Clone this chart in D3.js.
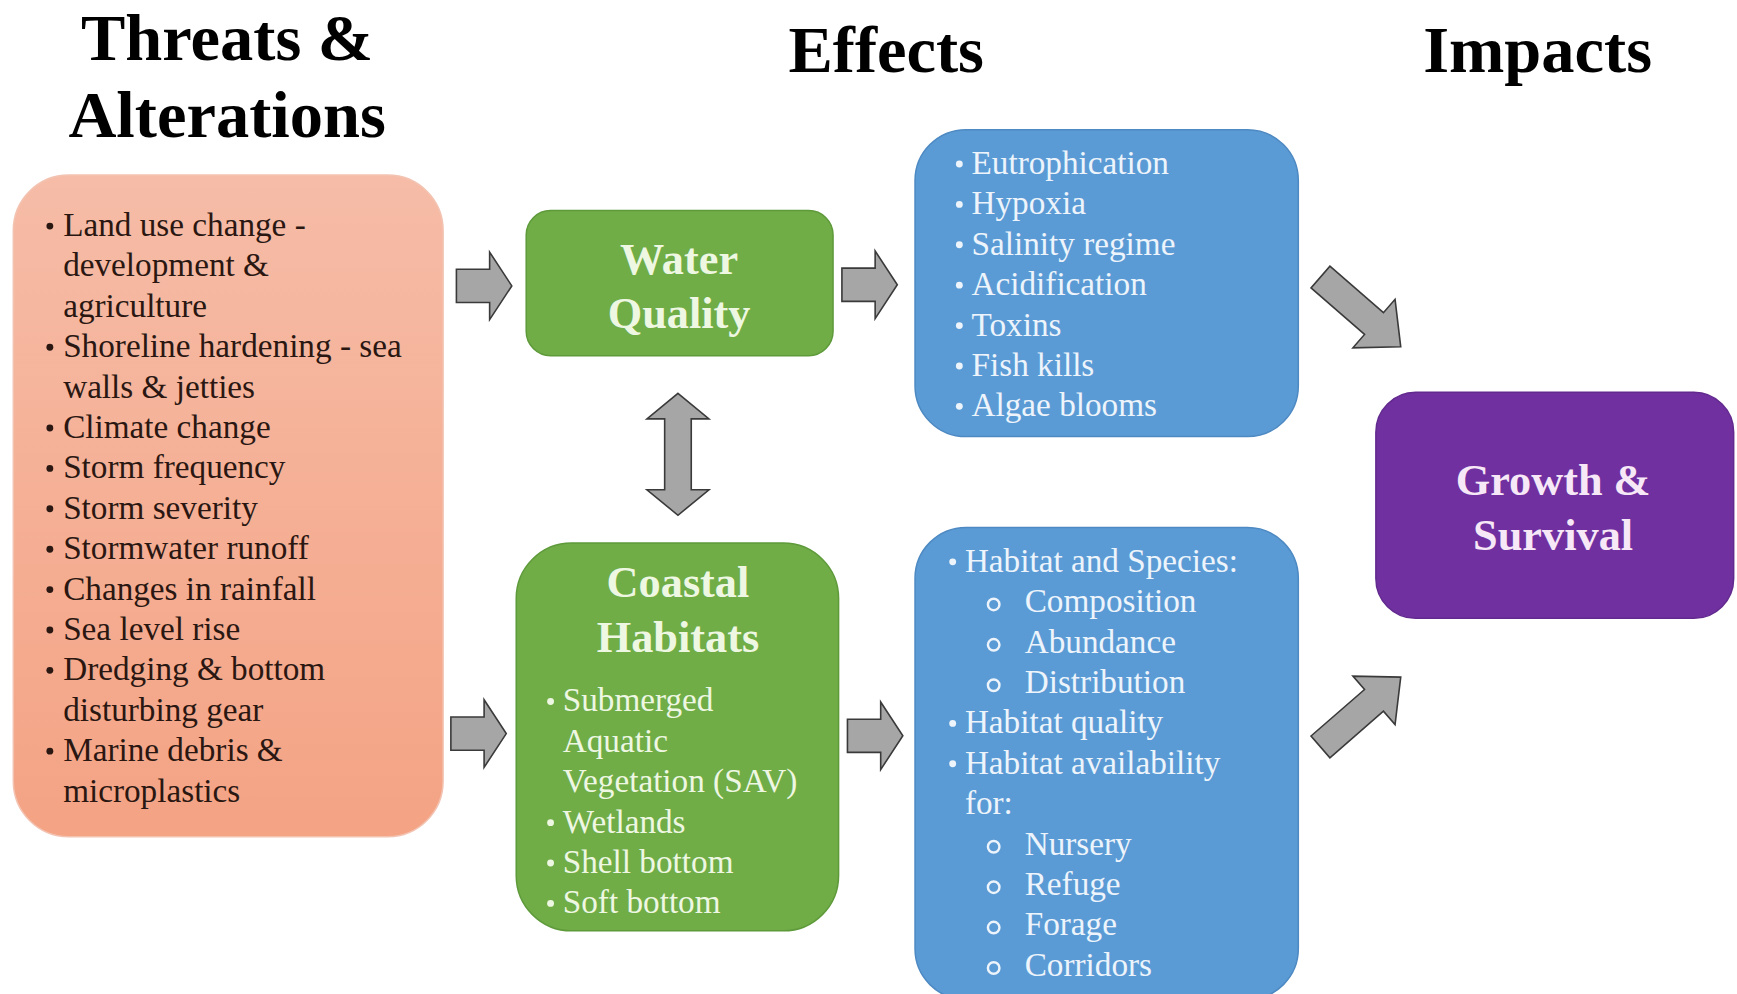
<!DOCTYPE html>
<html>
<head>
<meta charset="utf-8">
<script src="https://cdn.jsdelivr.net/npm/d3@7"></script>
<style>
  html, body { margin:0; padding:0; background:#fff; }
  svg { display:block; }
</style>
</head>
<body>
<div id="plot"></div>
<script>
// text content of the diagram
var colTitles = [["Threats &","Alterations"], ["Effects"], ["Impacts"]];
var threats = [
  ["Land use change -","development &","agriculture"],
  ["Shoreline hardening - sea","walls & jetties"],
  ["Climate change"],
  ["Storm frequency"],
  ["Storm severity"],
  ["Stormwater runoff"],
  ["Changes in rainfall"],
  ["Sea level rise"],
  ["Dredging & bottom","disturbing gear"],
  ["Marine debris &","microplastics"]
];
var waterTitle = ["Water","Quality"];
var habitatTitle = ["Coastal","Habitats"];
var habitatTypes = [
  ["Submerged","Aquatic","Vegetation (SAV)"],
  ["Wetlands"],
  ["Shell bottom"],
  ["Soft bottom"]
];
var waterEffects = ["Eutrophication","Hypoxia","Salinity regime","Acidification","Toxins","Fish kills","Algae blooms"];
var habitatEffects = [
  {lines:["Habitat and Species:"], sub:["Composition","Abundance","Distribution"]},
  {lines:["Habitat quality"], sub:[]},
  {lines:["Habitat availability","for:"], sub:["Nursery","Refuge","Forage","Corridors"]}
];
var impactTitle = ["Growth &","Survival"];

//Set up the drawing environment here
var W = 1737, H = 994;
// layout was measured on a 1568 x 897 copy, scales map it to the page
var x = d3.scaleLinear().domain([0,1568]).range([0,W]);
var y = d3.scaleLinear().domain([0,897]).range([0,H]);
var k = W/1568;
var serif = "'Liberation Serif','Times New Roman',serif";
var lineStep = 36.45;

var svg = d3.select('#plot')
  .append('svg')
  .attr('width',W)
  .attr('height',H);

var defs = svg.append('defs');
var grad = defs.append('linearGradient').attr('id','salmon')
  .attr('x1',0).attr('y1',0).attr('x2',0).attr('y2',1);
grad.append('stop').attr('offset','0%').attr('stop-color','#f6bca7');
grad.append('stop').attr('offset','100%').attr('stop-color','#f4a384');

svg.append('rect').attr('width',W).attr('height',H).style('fill','#fff');

// column headers
var titleX = [205, 800, 1388], titleY = [54, 65, 65];
colTitles.forEach(function(t, i){
  t.forEach(function(line, j){
    svg.append('text')
      .attr('x', x(titleX[i]))
      .attr('y', y(titleY[i] + j*70))
      .attr('text-anchor','middle')
      .style('font-family',serif)
      .style('font-weight','bold')
      .style('font-size',(60*k)+'px')
      .style('fill','#000')
      .text(line);
  });
});

function box(x0, y0, x1, y1, r, fill, stroke){
  svg.append('rect')
    .attr('x',x(x0)).attr('y',y(y0))
    .attr('width',x(x1)-x(x0)).attr('height',y(y1)-y(y0))
    .attr('rx',r*k).attr('ry',r*k)
    .style('fill',fill)
    .style('stroke',stroke)
    .style('stroke-width',1.5);
}

function heading(lines, cx, base, color){
  lines.forEach(function(line, j){
    svg.append('text')
      .attr('x',x(cx)).attr('y',y(base + j*49))
      .attr('text-anchor','middle')
      .style('font-family',serif)
      .style('font-weight','bold')
      .style('font-size',(40*k)+'px')
      .style('fill',color)
      .text(line);
  });
}

// one row of list text, center line at yc
function row(str, tx, yc, color){
  svg.append('text')
    .attr('x',x(tx)).attr('y',y(yc+10))
    .style('font-family',serif)
    .style('font-size',(30*k)+'px')
    .style('fill',color)
    .text(str);
}
function dot(bx, yc, color){
  svg.append('circle').attr('cx',x(bx)).attr('cy',y(yc+1)).attr('r',3.1*k).style('fill',color);
}
function ring(bx, yc, color){
  svg.append('circle').attr('cx',x(bx)).attr('cy',y(yc+3)).attr('r',5.2*k)
    .style('fill','none').style('stroke',color).style('stroke-width',2.2*k);
}

// bulleted list of multi-line items
function bulletList(items, bx, tx, y0, color){
  var n = 0;
  items.forEach(function(item){
    dot(bx, y0 + n*lineStep, color);
    item.forEach(function(line){
      row(line, tx, y0 + n*lineStep, color);
      n++;
    });
  });
}

// boxes
box(12, 158, 400, 755, 50, 'url(#salmon)', '#f3c3b2');
box(475, 190, 752, 321, 22, '#70ad47', '#5e9a3a');
box(466, 490, 757, 840, 50, '#70ad47', '#5e9a3a');
box(826, 117, 1172, 394, 46, '#5b9bd5', '#4d89c2');
box(826, 476, 1172, 902, 46, '#5b9bd5', '#4d89c2');
box(1242, 354, 1565, 558, 36, '#7030a0', '#622a8e');

// box contents
var brown = '#2a1712', cream = '#eef7e2', pale = '#edf4fb';
bulletList(threats, 45, 57, 203, brown);

heading(waterTitle, 613, 247, cream);
heading(habitatTitle, 612, 539, cream);
bulletList(habitatTypes, 497, 508, 632, cream);

bulletList(waterEffects.map(function(d){ return [d]; }), 866, 877, 147, pale);

var n = 0;
habitatEffects.forEach(function(item){
  dot(860, 506 + n*lineStep, pale);
  item.lines.forEach(function(line){ row(line, 871, 506 + n*lineStep, pale); n++; });
  item.sub.forEach(function(s){
    ring(897, 506 + n*lineStep, pale);
    row(s, 925, 506 + n*lineStep, pale);
    n++;
  });
});

heading(impactTitle, 1402, 447, '#f6e8f6');

// block arrows, built along +x then moved into place
function arrowPath(len, shaft, head, headLen){
  var s = shaft/2, h = head/2, b = len - headLen;
  return 'M0,'+(-s)+'L'+b+','+(-s)+'L'+b+','+(-h)+'L'+len+',0L'+b+','+h+'L'+b+','+s+'L0,'+s+'Z';
}
function doubleArrowPath(len, shaft, head, headLen){
  var s = shaft/2, h = head/2;
  return 'M0,0L'+headLen+','+(-h)+'L'+headLen+','+(-s)+'L'+(len-headLen)+','+(-s)+
    'L'+(len-headLen)+','+(-h)+'L'+len+',0L'+(len-headLen)+','+h+'L'+(len-headLen)+','+s+
    'L'+headLen+','+s+'L'+headLen+','+h+'Z';
}
function arrow(d, x0, y0, angle){
  svg.append('path')
    .attr('d',d)
    .attr('transform','translate('+x(x0)+','+y(y0)+') rotate('+angle+')')
    .style('fill','#a6a6a6')
    .style('stroke','#3a3a3a')
    .style('stroke-width',1.6)
    .style('stroke-linejoin','miter');
}
// straight ones
[[412,258],[760,257],[407,662],[765,664]].forEach(function(a){
  arrow(arrowPath(50*k, 30*k, 61*k, 20*k), a[0], a[1], 0);
});
// up/down between the two green boxes
arrow(doubleArrowPath(110*k, 24*k, 56*k, 23*k), 612, 355, 90);
// diagonals to the purple box
arrow(arrowPath(96*k, 26*k, 58*k, 32*k), 1192, 250, 41);
arrow(arrowPath(96*k, 26*k, 58*k, 32*k), 1192, 674, -41);
</script>
</body>
</html>
